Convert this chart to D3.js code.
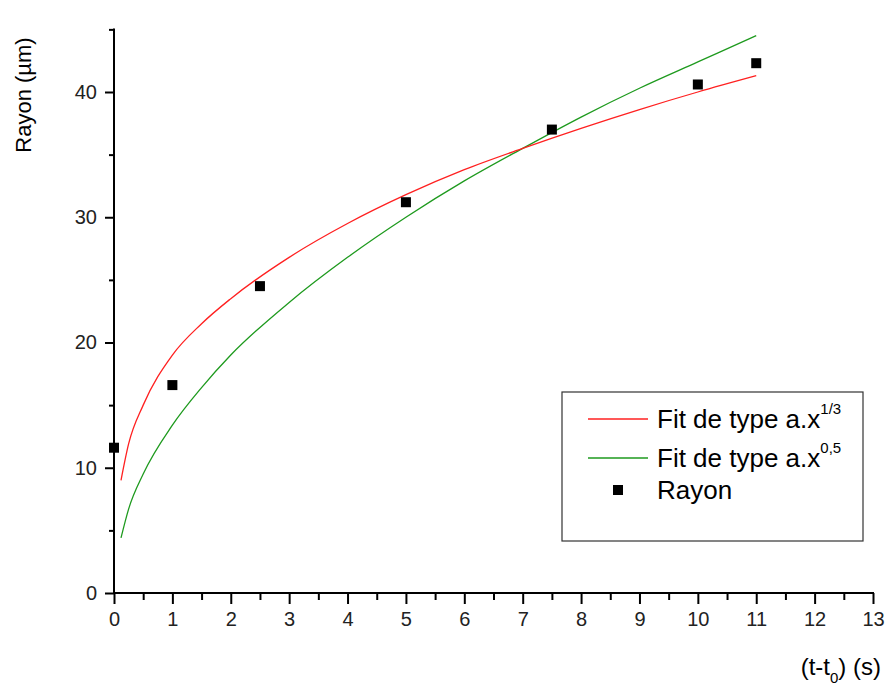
<!DOCTYPE html>
<html><head><meta charset="utf-8">
<script src="https://cdn.jsdelivr.net/npm/d3@7"></script>
<style>
body{margin:0;background:#fff;}
svg{display:block;font-family:"Liberation Sans",Arial,sans-serif;}
</style></head>
<body>
<svg id="chart" width="885" height="689"></svg>
<script>
// Data
const pointX = [0, 1, 2.5, 5, 7.5, 10, 11];
const pointY = [11.6, 16.6, 24.5, 31.2, 37.0, 40.6, 42.3];

const fitX     = [0.12, 0.25, 0.5, 1, 1.5, 2, 3, 4, 5, 6, 7, 8, 9, 10, 11];
const fitRed   = [9.0, 11.9, 15.0, 19.0, 21.5, 23.5, 26.8, 29.5, 31.8, 33.8, 35.5, 37.1, 38.6, 40.0, 41.3];
const fitGreen = [4.4, 6.7, 9.5, 13.4, 16.4, 19.0, 23.2, 26.8, 30.0, 32.9, 35.5, 38.0, 40.3, 42.4, 44.5];

const xMajor = d3.range(0, 14, 1);
const xMinor = d3.range(0.5, 13, 1);
const yMajor = [0, 10, 20, 30, 40];
const yMinor = [5, 15, 25, 35, 45];

const svg = d3.select("#chart");
const L = 114, R = 873, B = 593;
const x = d3.scaleLinear().domain([0, 13]).range([L, R]);
const y = d3.scaleLinear().domain([0, 45]).range([B, B - 45 * 12.525]);

function styleAxis(g) {
  g.select(".domain").remove();
  g.selectAll("line").attr("stroke", "#000").attr("stroke-width", 2);
  g.selectAll("text").attr("font-size", 20).attr("fill", "#222")
    .attr("font-family", "Liberation Sans, Arial, sans-serif");
}

// X axis ticks
svg.append("g").attr("transform", `translate(0,${B})`)
  .call(d3.axisBottom(x).tickValues(xMinor).tickSize(7).tickFormat(""))
  .call(styleAxis);
svg.append("g").attr("transform", `translate(0,${B})`)
  .call(d3.axisBottom(x).tickValues(xMajor).tickSize(11).tickPadding(8).tickFormat(d3.format("d")))
  .call(styleAxis);

// Y axis ticks
svg.append("g").attr("transform", `translate(${L},0)`)
  .call(d3.axisLeft(y).tickValues(yMinor).tickSize(5).tickFormat(""))
  .call(styleAxis);
svg.append("g").attr("transform", `translate(${L},0)`)
  .call(d3.axisLeft(y).tickValues(yMajor).tickSize(9).tickPadding(8).tickFormat(d3.format("d")))
  .call(styleAxis);

// Axis lines
svg.append("line").attr("x1", x(0) - 1).attr("x2", x(13) + 1).attr("y1", y(0)).attr("y2", y(0))
  .attr("stroke", "#000").attr("stroke-width", 2);
svg.append("line").attr("x1", x(0)).attr("x2", x(0)).attr("y1", y(0) + 1).attr("y2", y(45) - 1)
  .attr("stroke", "#000").attr("stroke-width", 2);

// Fit lines
const line = d3.line().x(d => x(d[0])).y(d => y(d[1])).curve(d3.curveMonotoneX);
svg.append("path").datum(fitX.map((v, i) => [v, fitGreen[i]]))
  .attr("d", line).attr("fill", "none").attr("stroke", "#1e9a1e").attr("stroke-width", 1.3);
svg.append("path").datum(fitX.map((v, i) => [v, fitRed[i]]))
  .attr("d", line).attr("fill", "none").attr("stroke", "#ff2020").attr("stroke-width", 1.3);

// Points
const sq = 10;
svg.append("g").selectAll("rect").data(pointX.map((v, i) => [v, pointY[i]])).join("rect")
  .attr("x", d => x(d[0]) - sq / 2).attr("y", d => y(d[1]) - sq / 2)
  .attr("width", sq).attr("height", sq).attr("fill", "#000");

// Axis titles
svg.append("text").attr("transform", "translate(31,95) rotate(-90)")
  .attr("text-anchor", "middle").attr("font-size", 22).attr("fill", "#000").text("Rayon (µm)");
const xt = svg.append("text").attr("x", 881).attr("y", 675).attr("text-anchor", "end")
  .attr("font-size", 24).attr("fill", "#000");
xt.append("tspan").text("(t-t");
xt.append("tspan").attr("font-size", 15).attr("dy", 8).text("0");
xt.append("tspan").attr("dy", -8).text(") (s)");

// Legend
const lg = svg.append("g");
lg.append("rect").attr("x", 562).attr("y", 392).attr("width", 301).attr("height", 149)
  .attr("fill", "#fff").attr("stroke", "#333").attr("stroke-width", 1.2);
const legendItems = [
  {type: "line", color: "#ff2020", label: "Fit de type a.x", sup: "1/3", y: 419},
  {type: "line", color: "#1e9a1e", label: "Fit de type a.x", sup: "0,5", y: 458},
  {type: "square", color: "#000", label: "Rayon", sup: null, y: 490}
];
legendItems.forEach(it => {
  if (it.type === "line") {
    lg.append("line").attr("x1", 588).attr("x2", 648).attr("y1", it.y).attr("y2", it.y)
      .attr("stroke", it.color).attr("stroke-width", 1.5);
  } else {
    lg.append("rect").attr("x", 613).attr("y", it.y - 5).attr("width", 10).attr("height", 10).attr("fill", it.color);
  }
  const t = lg.append("text").attr("x", 657).attr("y", it.y + 9).attr("font-size", 26).attr("fill", "#000");
  t.append("tspan").text(it.label);
  if (it.sup) t.append("tspan").attr("font-size", 15).attr("dy", -14).text(it.sup);
});
</script>
</body></html>
